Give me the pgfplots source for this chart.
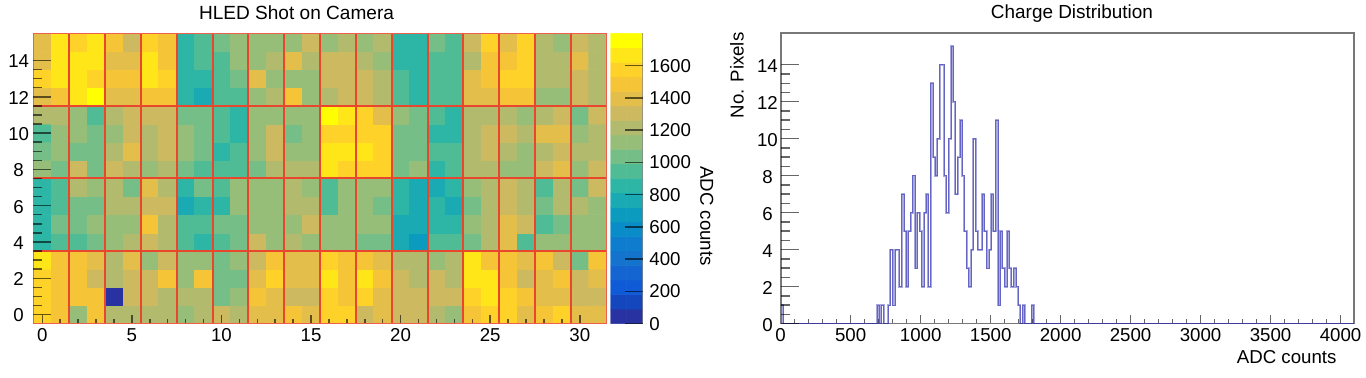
\documentclass[border=0pt]{standalone}
\usepackage{fontspec}
\setmainfont{Liberation Sans}
\usepackage{pgfplots}
\usepackage{pgfplotstable}
\pgfplotsset{compat=1.18}

% ADC value of each camera pixel, bottom row first
\pgfplotstableread[row sep=\\]{
x y c\\
0 0 1575\\1 0 1485\\2 0 1125\\3 0 1485\\4 0 1215\\5 0 1215\\6 0 1215\\7 0 1215\\8 0 1125\\9 0 1215\\10 0 1305\\11 0 1215\\12 0 1395\\13 0 1395\\14 0 1485\\15 0 1395\\16 0 1575\\17 0 1575\\18 0 1305\\19 0 1395\\20 0 1305\\21 0 1305\\22 0 1215\\23 0 1125\\24 0 1485\\25 0 1575\\26 0 1575\\27 0 1395\\28 0 1485\\29 0 1575\\30 0 1395\\31 0 1395\\
0 1 1575\\1 1 1485\\2 1 1485\\3 1 1485\\4 1 45\\5 1 1305\\6 1 1305\\7 1 1215\\8 1 1215\\9 1 1215\\10 1 1035\\11 1 1125\\12 1 1485\\13 1 1395\\14 1 1305\\15 1 1305\\16 1 1575\\17 1 1485\\18 1 1575\\19 1 1395\\20 1 1305\\21 1 1305\\22 1 1305\\23 1 1305\\24 1 1575\\25 1 1665\\26 1 1575\\27 1 1485\\28 1 1395\\29 1 1395\\30 1 1305\\31 1 1305\\
0 2 1575\\1 2 1485\\2 2 1485\\3 2 1305\\4 2 1215\\5 2 1305\\6 2 1305\\7 2 1485\\8 2 1125\\9 2 1485\\10 2 1035\\11 2 1035\\12 2 1395\\13 2 1575\\14 2 1395\\15 2 1395\\16 2 1665\\17 2 1485\\18 2 1665\\19 2 1485\\20 2 1305\\21 2 1215\\22 2 1305\\23 2 1215\\24 2 1665\\25 2 1665\\26 2 1485\\27 2 1305\\28 2 1395\\29 2 1485\\30 2 1305\\31 2 1395\\
0 3 1665\\1 3 1485\\2 3 1485\\3 3 1395\\4 3 1215\\5 3 1395\\6 3 1125\\7 3 1305\\8 3 1125\\9 3 1125\\10 3 1035\\11 3 1125\\12 3 1305\\13 3 1485\\14 3 1395\\15 3 1395\\16 3 1575\\17 3 1485\\18 3 1485\\19 3 1395\\20 3 1215\\21 3 1215\\22 3 1125\\23 3 1215\\24 3 1665\\25 3 1485\\26 3 1485\\27 3 1395\\28 3 1485\\29 3 1305\\30 3 1035\\31 3 1485\\
0 4 855\\1 4 945\\2 4 945\\3 4 1035\\4 4 1125\\5 4 1215\\6 4 1305\\7 4 1215\\8 4 945\\9 4 855\\10 4 945\\11 4 1035\\12 4 1305\\13 4 1125\\14 4 1215\\15 4 1125\\16 4 1125\\17 4 1125\\18 4 1035\\19 4 1035\\20 4 765\\21 4 675\\22 4 945\\23 4 945\\24 4 1035\\25 4 1215\\26 4 1395\\27 4 945\\28 4 1125\\29 4 1125\\30 4 1125\\31 4 1125\\
0 5 855\\1 5 1035\\2 5 1035\\3 5 1125\\4 5 1125\\5 5 1125\\6 5 1485\\7 5 1215\\8 5 945\\9 5 945\\10 5 1035\\11 5 1035\\12 5 1125\\13 5 1125\\14 5 1125\\15 5 1305\\16 5 1125\\17 5 1125\\18 5 1125\\19 5 1125\\20 5 765\\21 5 765\\22 5 855\\23 5 855\\24 5 1125\\25 5 1215\\26 5 1395\\27 5 1305\\28 5 945\\29 5 1035\\30 5 1125\\31 5 1125\\
0 6 855\\1 6 945\\2 6 1035\\3 6 1035\\4 6 1215\\5 6 1215\\6 6 1305\\7 6 1305\\8 6 765\\9 6 855\\10 6 855\\11 6 1125\\12 6 1125\\13 6 1125\\14 6 1215\\15 6 1215\\16 6 945\\17 6 1125\\18 6 1125\\19 6 1035\\20 6 855\\21 6 765\\22 6 855\\23 6 765\\24 6 1035\\25 6 1215\\26 6 1305\\27 6 1215\\28 6 1035\\29 6 1215\\30 6 1215\\31 6 1125\\
0 7 855\\1 7 945\\2 7 1215\\3 7 1125\\4 7 1215\\5 7 1035\\6 7 1395\\7 7 1215\\8 7 855\\9 7 1035\\10 7 945\\11 7 1125\\12 7 1125\\13 7 1125\\14 7 1215\\15 7 1125\\16 7 945\\17 7 1125\\18 7 1125\\19 7 1125\\20 7 855\\21 7 765\\22 7 765\\23 7 855\\24 7 1125\\25 7 1215\\26 7 1305\\27 7 1215\\28 7 945\\29 7 1215\\30 7 1035\\31 7 1305\\
0 8 1125\\1 8 1035\\2 8 1305\\3 8 1035\\4 8 1305\\5 8 1215\\6 8 1125\\7 8 1215\\8 8 1035\\9 8 945\\10 8 945\\11 8 945\\12 8 1035\\13 8 1215\\14 8 1215\\15 8 1215\\16 8 1665\\17 8 1575\\18 8 1575\\19 8 1575\\20 8 1035\\21 8 1125\\22 8 855\\23 8 945\\24 8 1215\\25 8 1215\\26 8 1125\\27 8 1125\\28 8 1305\\29 8 1395\\30 8 1125\\31 8 1305\\
0 9 1035\\1 9 1125\\2 9 1035\\3 9 1035\\4 9 1215\\5 9 1395\\6 9 1215\\7 9 1305\\8 9 1125\\9 9 1035\\10 9 855\\11 9 945\\12 9 1125\\13 9 1305\\14 9 1125\\15 9 1125\\16 9 1665\\17 9 1665\\18 9 1665\\19 9 1575\\20 9 1035\\21 9 1035\\22 9 945\\23 9 945\\24 9 1215\\25 9 1305\\26 9 1215\\27 9 1125\\28 9 1215\\29 9 1305\\30 9 1215\\31 9 1215\\
0 10 945\\1 10 1125\\2 10 1125\\3 10 1035\\4 10 1125\\5 10 1305\\6 10 1215\\7 10 1305\\8 10 1125\\9 10 1035\\10 10 945\\11 10 855\\12 10 1125\\13 10 1305\\14 10 1035\\15 10 1125\\16 10 1575\\17 10 1575\\18 10 1575\\19 10 1575\\20 10 1035\\21 10 1035\\22 10 855\\23 10 855\\24 10 1215\\25 10 1305\\26 10 1305\\27 10 1215\\28 10 1395\\29 10 1395\\30 10 1125\\31 10 1215\\
0 11 1215\\1 11 1215\\2 11 1125\\3 11 945\\4 11 1215\\5 11 1305\\6 11 1305\\7 11 1305\\8 11 1035\\9 11 1035\\10 11 945\\11 11 855\\12 11 1125\\13 11 1125\\14 11 1125\\15 11 1125\\16 11 1755\\17 11 1665\\18 11 1575\\19 11 1395\\20 11 1125\\21 11 1035\\22 11 945\\23 11 855\\24 11 1215\\25 11 1215\\26 11 1215\\27 11 1125\\28 11 1215\\29 11 1305\\30 11 1035\\31 11 1305\\
0 12 1395\\1 12 1485\\2 12 1665\\3 12 1755\\4 12 1395\\5 12 1395\\6 12 1485\\7 12 1485\\8 12 855\\9 12 765\\10 12 945\\11 12 945\\12 12 1125\\13 12 1215\\14 12 1485\\15 12 1125\\16 12 1215\\17 12 1305\\18 12 1305\\19 12 1215\\20 12 945\\21 12 855\\22 12 945\\23 12 945\\24 12 1395\\25 12 1395\\26 12 1485\\27 12 1485\\28 12 1125\\29 12 1125\\30 12 1305\\31 12 1215\\
0 13 1575\\1 13 1665\\2 13 1665\\3 13 1575\\4 13 1485\\5 13 1485\\6 13 1665\\7 13 1575\\8 13 855\\9 13 855\\10 13 945\\11 13 1035\\12 13 1395\\13 13 1125\\14 13 1125\\15 13 1125\\16 13 1305\\17 13 1305\\18 13 1305\\19 13 1215\\20 13 945\\21 13 855\\22 13 945\\23 13 945\\24 13 1395\\25 13 1485\\26 13 1575\\27 13 1575\\28 13 1215\\29 13 1215\\30 13 1305\\31 13 1215\\
0 14 1395\\1 14 1665\\2 14 1665\\3 14 1665\\4 14 1395\\5 14 1395\\6 14 1665\\7 14 1485\\8 14 855\\9 14 945\\10 14 945\\11 14 1125\\12 14 1125\\13 14 1215\\14 14 1395\\15 14 1215\\16 14 1305\\17 14 1305\\18 14 1215\\19 14 1125\\20 14 855\\21 14 855\\22 14 945\\23 14 945\\24 14 1215\\25 14 1485\\26 14 1485\\27 14 1575\\28 14 1215\\29 14 1215\\30 14 1395\\31 14 1215\\
0 15 1395\\1 15 1665\\2 15 1575\\3 15 1665\\4 15 1485\\5 15 1305\\6 15 1575\\7 15 1485\\8 15 855\\9 15 945\\10 15 1035\\11 15 1125\\12 15 1125\\13 15 1125\\14 15 1125\\15 15 1305\\16 15 1125\\17 15 1215\\18 15 1125\\19 15 1215\\20 15 855\\21 15 855\\22 15 1035\\23 15 945\\24 15 1305\\25 15 1575\\26 15 1395\\27 15 1575\\28 15 1215\\29 15 1125\\30 15 1305\\31 15 1215\\
}\campixels

% colour scale, 20 levels of 90 counts
\pgfplotstableread[row sep=\\]{
x y c\\
0 45 45\\1 45 45\\0 135 135\\1 135 135\\0 225 225\\1 225 225\\0 315 315\\1 315 315\\0 405 405\\1 405 405\\
0 495 495\\1 495 495\\0 585 585\\1 585 585\\0 675 675\\1 675 675\\0 765 765\\1 765 765\\0 855 855\\1 855 855\\
0 945 945\\1 945 945\\0 1035 1035\\1 1035 1035\\0 1125 1125\\1 1125 1125\\0 1215 1215\\1 1215 1215\\0 1305 1305\\1 1305 1305\\
0 1395 1395\\1 1395 1395\\0 1485 1485\\1 1485 1485\\0 1575 1575\\1 1575 1575\\0 1665 1665\\1 1665 1665\\0 1755 1755\\1 1755 1755\\
}\scalebar

% charge histogram, 16 counts per bin
\pgfplotstableread[row sep=\\]{
adc n\\
0 1\\16 0\\688 1\\704 0\\720 1\\736 0\\768 1\\784 4\\800 1\\816 4\\832 4\\848 2\\864 7\\880 5\\896 2\\912 5\\928 6\\944 8\\960 3\\976 6\\992 5\\
1008 2\\1024 6\\1040 7\\1056 2\\1072 13\\1088 9\\1104 8\\1120 10\\1136 14\\1152 14\\1168 8\\1184 6\\1200 10\\1216 15\\1232 12\\1248 7\\1264 9\\1280 11\\1296 8\\1312 5\\
1328 3\\1344 2\\1360 4\\1376 10\\1392 5\\1408 4\\1424 4\\1440 7\\1456 5\\1472 3\\1488 4\\1504 7\\1520 5\\1536 11\\1552 1\\1568 5\\1584 3\\1600 2\\1616 5\\1632 3\\
1648 2\\1664 3\\1680 2\\1696 1\\1712 0\\1728 1\\1744 0\\1792 1\\1808 0\\4096 0\\
}\chargehist

\definecolor{framered}{RGB}{240,95,75}
\definecolor{gridred}{RGB}{232,70,45}
\definecolor{framegray}{RGB}{120,120,120}
\definecolor{histblue}{RGB}{35,35,170}

\pgfplotsset{
  every axis/.append style={
    scale only axis,
    anchor=south west,
    tick align=inside,
    tick style={black, opacity=.6, line width=1.1pt},
    tick label style={font=\fontsize{14}{16}\selectfont},
    /pgf/number format/assume math mode=true,
    /pgf/number format/1000 sep={},
    colormap={cam}{
      rgb255=(40,50,160) rgb255=(20,70,190) rgb255=(15,90,215) rgb255=(20,100,210)
      rgb255=(20,115,205) rgb255=(15,125,205) rgb255=(10,140,200) rgb255=(10,155,190)
      rgb255=(25,170,180) rgb255=(45,182,165) rgb255=(80,188,150) rgb255=(118,190,135)
      rgb255=(150,190,120) rgb255=(178,186,110) rgb255=(205,185,95) rgb255=(228,190,75)
      rgb255=(245,197,55) rgb255=(254,210,40) rgb255=(254,230,25) rgb255=(255,255,0)
    },
    colormap access=piecewise constant,
    point meta min=0, point meta max=1800,
  },
}

\begin{document}
\begin{tikzpicture}
\path[use as bounding box] (0,0) rectangle (1024.5pt,283.5pt);

% camera map: cells, module lines, x ticks
\begin{axis}[
  at={(25pt,40.8pt)}, width=430pt, height=217.7pt,
  xmin=-0.5, xmax=31.5, ymin=-0.5, ymax=15.5,
  axis on top,
  axis line style={framered, line width=1.1pt},
  xtick={0,5,...,30}, minor x tick num=4, ytick=\empty,
  xtick pos=bottom,
  major tick length=6.75pt, minor tick length=3.4pt,
]
\addplot[matrix plot*, mesh/cols=32, point meta=explicit]
  table[x=x, y=y, meta=c] {\campixels};
\addplot[gridred, line width=1.5pt, no marks] coordinates {
  (1.5,-0.5) (1.5,15.5) (3.5,15.5) (3.5,-0.5) (5.5,-0.5) (5.5,15.5) (7.5,15.5) (7.5,-0.5)
  (9.5,-0.5) (9.5,15.5) (11.5,15.5) (11.5,-0.5) (13.5,-0.5) (13.5,15.5) (15.5,15.5) (15.5,-0.5)
  (17.5,-0.5) (17.5,15.5) (19.5,15.5) (19.5,-0.5) (21.5,-0.5) (21.5,15.5) (23.5,15.5) (23.5,-0.5)
  (25.5,-0.5) (25.5,15.5) (27.5,15.5) (27.5,-0.5) (29.5,-0.5) (29.5,15.5)
};
\addplot[gridred, line width=1.5pt, no marks] coordinates {
  (-0.5,3.5) (31.5,3.5) (31.5,7.5) (-0.5,7.5) (-0.5,11.5) (31.5,11.5)
};
\end{axis}

% camera map: y ticks are twice as long
\begin{axis}[
  at={(25pt,40.8pt)}, width=430pt, height=217.7pt,
  xmin=-0.5, xmax=31.5, ymin=-0.5, ymax=15.5,
  axis line style={draw=none},
  xtick=\empty, ytick={0,2,...,14}, minor y tick num=3,
  ytick pos=left,
  major tick length=13.5pt, minor tick length=6.75pt,
  yticklabel style={anchor=center, xshift=-11pt, yshift=-.75pt},
]
\end{axis}

% colour scale
\begin{axis}[
  at={(458pt,40.8pt)}, width=24pt, height=217.7pt,
  xmin=-0.5, xmax=1.5, ymin=0, ymax=1800,
  axis on top,
  axis line style={draw=none},
  xtick=\empty, ytick={0,200,...,1600},
  ytick pos=right, yticklabel pos=right,
  major tick length=13.5pt,
  yticklabel style={anchor=west, xshift=1.5pt},
]
\addplot[matrix plot*, mesh/cols=2, point meta=explicit]
  table[x=x, y=y, meta=c] {\scalebar};
\addplot[framegray, line width=1pt, no marks] coordinates {(1.5,0) (1.5,1800)};
\end{axis}

% charge distribution
\begin{axis}[
  at={(585.5pt,40.8pt)}, width=430pt, height=217.7pt,
  xmin=0, xmax=4096, ymin=0, ymax=15.7,
  axis line style={framegray, line width=1.3pt},
  xtick={0,500,...,4000}, minor x tick num=4, ytick=\empty,
  xtick pos=bottom,
  major tick length=6.75pt, minor tick length=3.4pt,
]
\addplot[const plot, no marks, histblue, opacity=.4, line width=1.5pt]
  table[x=adc, y=n] {\chargehist};
\addplot[const plot, no marks, histblue, opacity=.5, line width=.5pt]
  table[x=adc, y=n] {\chargehist};
\end{axis}
\begin{axis}[
  at={(585.5pt,40.8pt)}, width=430pt, height=217.7pt,
  xmin=0, xmax=4096, ymin=0, ymax=15.7,
  axis line style={draw=none},
  xtick=\empty, ytick={0,2,...,14}, minor y tick num=3,
  ytick pos=left,
  major tick length=13.5pt, minor tick length=6.75pt,
  yticklabel style={anchor=center, xshift=-9.9pt, yshift=-.75pt},
]
\end{axis}

\node[font=\fontsize{14.3}{16}\selectfont] at (222.4pt,273.8pt) {HLED Shot on Camera};
\node[font=\fontsize{14.2}{16}\selectfont] at (804pt,273pt) {Charge Distribution};
\node[font=\fontsize{14}{16}\selectfont, rotate=-90] at (530pt,121.5pt) {ADC counts};
\node[font=\fontsize{14}{16}\selectfont, rotate=90] at (552.7pt,226.9pt) {No. Pixels};
\node[font=\fontsize{14}{16}\selectfont] at (965pt,15.5pt) {ADC counts};
\end{tikzpicture}
\end{document}
